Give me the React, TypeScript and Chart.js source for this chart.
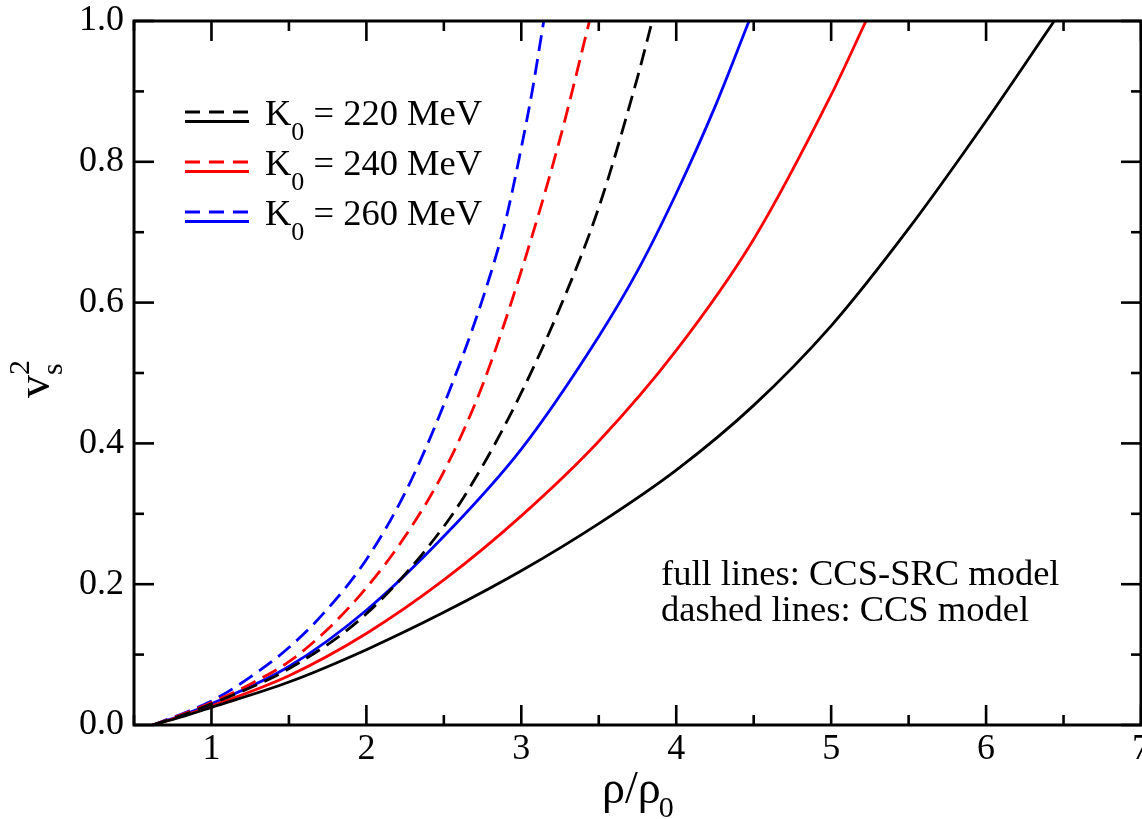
import React, { useEffect, useRef } from 'react';
import { Chart, registerables } from 'chart.js';

Chart.register(...registerables);

// K0 = 220 MeV
const rhoCcsSrc220 = [0.62, 0.8, 1.0, 1.5, 2.0, 2.5, 3.0, 3.5, 4.0, 4.5, 5.0, 5.5, 6.0, 6.44];
const vs2CcsSrc220 = [0, 0.011, 0.025, 0.061, 0.107, 0.16, 0.219, 0.286, 0.362, 0.454, 0.567, 0.705, 0.858, 1.0];
const rhoCcs220 = [0.62, 0.8, 1.0, 1.5, 2.0, 2.5, 2.75, 3.0, 3.25, 3.5, 3.75, 3.845];
const vs2Ccs220 = [0, 0.013, 0.03, 0.08, 0.158, 0.282, 0.368, 0.472, 0.593, 0.735, 0.92, 1.0];

// K0 = 240 MeV
const rhoCcsSrc240 = [0.62, 0.8, 1.0, 1.5, 2.0, 2.5, 3.0, 3.5, 4.0, 4.5, 5.0, 5.225];
const vs2CcsSrc240 = [0, 0.012, 0.027, 0.07, 0.13, 0.206, 0.297, 0.403, 0.532, 0.69, 0.895, 1.0];
const rhoCcs240 = [0.62, 0.8, 1.0, 1.25, 1.5, 1.75, 2.0, 2.25, 2.5, 2.75, 3.0, 3.25, 3.44];
const vs2Ccs240 = [0, 0.014, 0.032, 0.058, 0.09, 0.136, 0.195, 0.268, 0.36, 0.483, 0.645, 0.833, 1.0];

// K0 = 260 MeV
const rhoCcsSrc260 = [0.62, 0.8, 1.0, 1.5, 2.0, 2.5, 3.0, 3.5, 3.75, 4.0, 4.25, 4.47];
const vs2CcsSrc260 = [0, 0.013, 0.03, 0.083, 0.163, 0.268, 0.392, 0.552, 0.645, 0.755, 0.878, 1.0];
const rhoCcs260 = [0.62, 0.8, 1.0, 1.25, 1.5, 1.75, 2.0, 2.25, 2.5, 2.75, 2.9, 3.0, 3.07, 3.145];
const vs2Ccs260 = [0, 0.015, 0.034, 0.068, 0.11, 0.165, 0.235, 0.33, 0.455, 0.605, 0.718, 0.82, 0.9, 1.0];

const xMajorTicks = [1, 2, 3, 4, 5, 6, 7];
const xMinorTicks = [0.5, 1.5, 2.5, 3.5, 4.5, 5.5, 6.5];
const yMajorTicks = [0, 0.2, 0.4, 0.6, 0.8, 1.0];
const yMinorTicks = [0.1, 0.3, 0.5, 0.7, 0.9];

const legendValues = ['220 MeV', '240 MeV', '260 MeV'];
const seriesColors = ['#000000', '#ff0000', '#0000ff'];
const noteLines = ['full lines: CCS-SRC model', 'dashed lines: CCS model'];

const SERIF = '"Liberation Serif", "Times New Roman", serif';

const toPoints = (xs: number[], ys: number[]) => xs.map((x, i) => ({ x, y: ys[i] }));

const decorPlugin = {
  id: 'decor',
  afterDatasetsDraw(chart: any) {
    const { ctx, chartArea: a, scales } = chart;
    const xs = scales.x;
    const ys = scales.y;
    ctx.save();
    ctx.setLineDash([]);
    ctx.strokeStyle = '#000';
    ctx.lineCap = 'butt';

    // ticks (inward, all four sides)
    ctx.lineWidth = 2.6;
    const seg = (x1: number, y1: number, x2: number, y2: number) => {
      ctx.beginPath();
      ctx.moveTo(x1, y1);
      ctx.lineTo(x2, y2);
      ctx.stroke();
    };
    const majorLen = 20;
    const minorLen = 10;
    xMajorTicks.forEach((v) => {
      const p = xs.getPixelForValue(v);
      seg(p, a.bottom, p, a.bottom - majorLen);
      seg(p, a.top, p, a.top + majorLen);
    });
    xMinorTicks.forEach((v) => {
      const p = xs.getPixelForValue(v);
      seg(p, a.bottom, p, a.bottom - minorLen);
      seg(p, a.top, p, a.top + minorLen);
    });
    yMajorTicks.forEach((v) => {
      const p = ys.getPixelForValue(v);
      seg(a.left, p, a.left + majorLen, p);
      seg(a.right, p, a.right - majorLen, p);
    });
    yMinorTicks.forEach((v) => {
      const p = ys.getPixelForValue(v);
      seg(a.left, p, a.left + minorLen, p);
      seg(a.right, p, a.right - minorLen, p);
    });

    // frame
    ctx.lineWidth = 3;
    ctx.strokeRect(a.left, a.top, a.right - a.left, a.bottom - a.top);

    // legend
    ctx.fillStyle = '#000';
    ctx.textBaseline = 'alphabetic';
    ctx.textAlign = 'left';
    const rowBase = [125, 175, 225];
    legendValues.forEach((val, i) => {
      const b = rowBase[i];
      ctx.strokeStyle = seriesColors[i];
      ctx.lineWidth = 3.2;
      ctx.setLineDash([15, 9]);
      seg(185, b - 13, 249, b - 13);
      ctx.setLineDash([]);
      seg(185, b - 3.5, 249, b - 3.5);
      let x = 265;
      ctx.font = `36.5px ${SERIF}`;
      ctx.fillText('K', x, b);
      x += ctx.measureText('K').width;
      ctx.font = `26px ${SERIF}`;
      ctx.fillText('0', x, b + 15);
      x += ctx.measureText('0').width;
      ctx.font = `36.5px ${SERIF}`;
      ctx.fillText(' = ' + val, x, b);
    });

    // note
    ctx.font = `36.5px ${SERIF}`;
    ctx.fillText(noteLines[0], 661, 585);
    ctx.fillText(noteLines[1], 661, 621);

    // x title: rho/rho_0
    {
      let x = 602;
      const b = 803;
      ctx.font = `46px ${SERIF}`;
      ctx.fillText('ρ/ρ', x, b);
      x += ctx.measureText('ρ/ρ').width;
      ctx.font = `30px ${SERIF}`;
      ctx.fillText('0', x - 2, b + 14);
    }

    // y title: v_s^2
    {
      ctx.translate(49, 398);
      ctx.rotate(-Math.PI / 2);
      ctx.font = `46px ${SERIF}`;
      ctx.fillText('v', 0, 0);
      const w = ctx.measureText('v').width;
      ctx.font = `30px ${SERIF}`;
      ctx.fillText('s', w, 13);
      ctx.fillText('2', w, -20);
    }
    ctx.restore();
  },
};

function makeDataset(label: string, xs: number[], ys: number[], color: string, dashed: boolean) {
  return {
    label,
    data: toPoints(xs, ys),
    showLine: true,
    borderColor: color,
    backgroundColor: color,
    borderWidth: 2.8,
    borderDash: dashed ? [16, 8] : [],
    pointRadius: 0,
    cubicInterpolationMode: 'monotone' as const,
    fill: false,
  };
}

export default function App() {
  const canvasRef = useRef<HTMLCanvasElement | null>(null);

  useEffect(() => {
    const canvas = canvasRef.current;
    if (!canvas) return;
    const chart = new Chart(canvas, {
      type: 'scatter',
      data: {
        datasets: [
          makeDataset('CCS-SRC 220', rhoCcsSrc220, vs2CcsSrc220, seriesColors[0], false),
          makeDataset('CCS 220', rhoCcs220, vs2Ccs220, seriesColors[0], true),
          makeDataset('CCS-SRC 240', rhoCcsSrc240, vs2CcsSrc240, seriesColors[1], false),
          makeDataset('CCS 240', rhoCcs240, vs2Ccs240, seriesColors[1], true),
          makeDataset('CCS-SRC 260', rhoCcsSrc260, vs2CcsSrc260, seriesColors[2], false),
          makeDataset('CCS 260', rhoCcs260, vs2Ccs260, seriesColors[2], true),
        ],
      },
      options: {
        responsive: false,
        animation: false,
        devicePixelRatio: 1,
        layout: { padding: { left: 0, top: 21, right: 1, bottom: 0 } },
        plugins: {
          legend: { display: false },
          tooltip: { enabled: false },
        },
        scales: {
          x: {
            type: 'linear',
            position: 'bottom',
            min: 0.5,
            max: 7,
            grid: { display: false, drawTicks: false },
            border: { display: false },
            ticks: {
              color: '#000',
              font: { family: SERIF, size: 36 },
              padding: 3,
              maxRotation: 0,
              autoSkip: false,
              callback: (v: any) => String(v),
            },
            afterBuildTicks: (s: any) => {
              s.ticks = xMajorTicks.map((v) => ({ value: v }));
            },
            afterFit: (s: any) => {
              s.height = 94;
              s.paddingLeft = 0;
              s.paddingRight = 0;
            },
          },
          y: {
            type: 'linear',
            position: 'left',
            min: 0,
            max: 1,
            grid: { display: false, drawTicks: false },
            border: { display: false },
            ticks: {
              color: '#000',
              font: { family: SERIF, size: 36 },
              padding: 10,
              callback: (v: any) => Number(v).toFixed(1),
            },
            afterBuildTicks: (s: any) => {
              s.ticks = yMajorTicks.map((v) => ({ value: v }));
            },
            afterFit: (s: any) => {
              s.width = 134;
              s.paddingTop = 0;
              s.paddingBottom = 0;
            },
          },
        },
      },
      plugins: [decorPlugin],
    });
    return () => chart.destroy();
  }, []);

  return (
    <div style={{ position: 'absolute', left: 0, top: 0, width: 1142, height: 819, background: '#fff' }}>
      <canvas ref={canvasRef} width={1142} height={819} style={{ display: 'block' }} />
    </div>
  );
}
